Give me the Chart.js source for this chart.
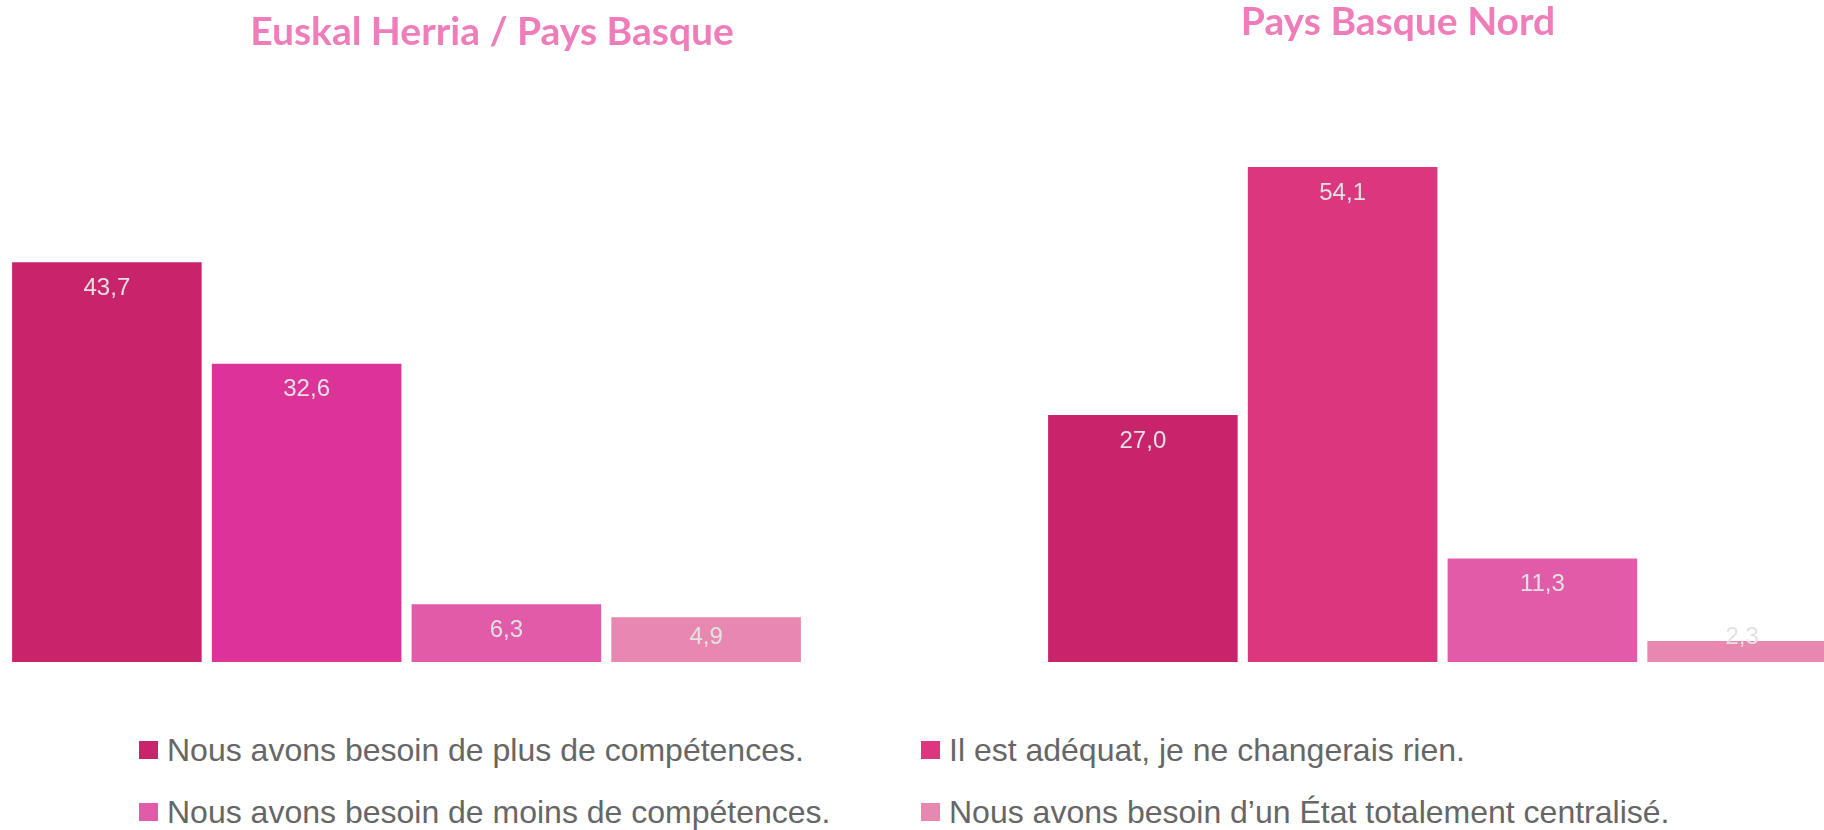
<!DOCTYPE html>
<html>
<head>
<meta charset="utf-8">
<script src="https://cdn.jsdelivr.net/npm/chart.js@4.4.1/dist/chart.umd.min.js"></script>
<style>
    html, body { margin: 0; padding: 0; background: #fff; }
    body { position: relative; width: 1824px; height: 830px; overflow: hidden; }
    #leftBox { position: absolute; left: 7px; top: 0; width: 970px; height: 662px; }
    #rightBox { position: absolute; left: 954px; top: 0; width: 888px; height: 662px; }
    #legend { position: absolute; left: 139px; top: 719px; display: grid;
              grid-template-columns: 782px 782px; grid-auto-rows: 62px;
              font: 32px "Liberation Sans", Arial, sans-serif; color: #666; }
    #legend div { display: flex; align-items: center; white-space: nowrap; }
    #legend span { display: inline-block; width: 19px; height: 18px; margin-right: 9px; }
</style>
</head>
<body>
<div id="leftBox"><canvas id="leftChart"></canvas></div>
<div id="rightBox"><canvas id="rightChart"></canvas></div>
<div id="legend"></div>
<script>
// answers, in bar order
var answers = [
    'Nous avons besoin de plus de compétences.',
    'Il est adéquat, je ne changerais rien.',
    'Nous avons besoin de moins de compétences.',
    'Nous avons besoin d\u2019un État totalement centralisé.'
];
var regions = ['Euskal Herria / Pays Basque', 'Pays Basque Nord'];
var valuesEH = [43.7, 32.6, 6.3, 4.9];
var valuesPBN = [27.0, 54.1, 11.3, 2.3];

var colorsEH = ['#C8246B', '#DC3399', '#E15BA8', '#E888B0'];
var colorsPBN = ['#C8246B', '#DB367E', '#E15BA8', '#E888B0'];
var legendColors = ['#C8246B', '#DB367E', '#E15BA8', '#E888B0'];
// legend grid: row 1 = plus / adéquat, row 2 = moins / centralisé
var legendOrder = [0, 1, 2, 3];

var valueLabels = {
    id: 'valueLabels',
    afterDatasetsDraw: function(chart) {
        var ctx = chart.ctx;
        var data = chart.data.datasets[0].data;
        ctx.save();
        ctx.font = '24px "Liberation Sans", Arial, sans-serif';
        ctx.fillStyle = '#e2e2e2';
        ctx.textAlign = 'center';
        ctx.textBaseline = 'middle';
        chart.getDatasetMeta(0).data.forEach(function(bar, i) {
            var y = Math.min(bar.y + 26, bar.base - 25);
            ctx.fillText(data[i].toFixed(1).replace('.', ','), bar.x, y);
        });
        ctx.restore();
    }
};

function makeChart(id, title, values, colors, titlePadding, axisSide, axisWidth) {
    var chart = document.getElementById(id).getContext('2d');
    return new Chart(chart, {
        type: 'bar',
        data: {
            labels: answers,
            datasets: [{
                label: title,
                data: values,
                backgroundColor: colors,
                borderWidth: 0,
                categoryPercentage: 0.949,
                barPercentage: 1
            }]
        },
        options: {
            responsive: true,
            maintainAspectRatio: false,
            animation: false,
            layout: { padding: 0 },
            scales: {
                x: { display: false },
                y: {
                    position: axisSide,
                    min: 0,
                    max: 60,
                    ticks: { display: false },
                    grid: { display: false },
                    border: { display: false },
                    afterFit: function(s) { s.width = axisWidth; }
                }
            },
            plugins: {
                legend: { display: false },
                tooltip: { enabled: false },
                title: {
                    display: true,
                    text: title,
                    color: '#EF7DB9',
                    font: { family: 'Lato, "Liberation Sans", sans-serif', size: 39, weight: 'bold', lineHeight: 1 },
                    padding: titlePadding
                }
            }
        },
        plugins: [valueLabels]
    });
}

makeChart('leftChart', regions[0], valuesEH, colorsEH, { top: 13, bottom: 61 }, 'right', 171);
makeChart('rightChart', regions[1], valuesPBN, colorsPBN, { top: 3, bottom: 71 }, 'left', 89);

var legend = document.getElementById('legend');
legendOrder.forEach(function(i) {
    var item = document.createElement('div');
    var box = document.createElement('span');
    box.style.background = legendColors[i];
    item.appendChild(box);
    item.appendChild(document.createTextNode(answers[i]));
    legend.appendChild(item);
});
</script>
</body>
</html>
